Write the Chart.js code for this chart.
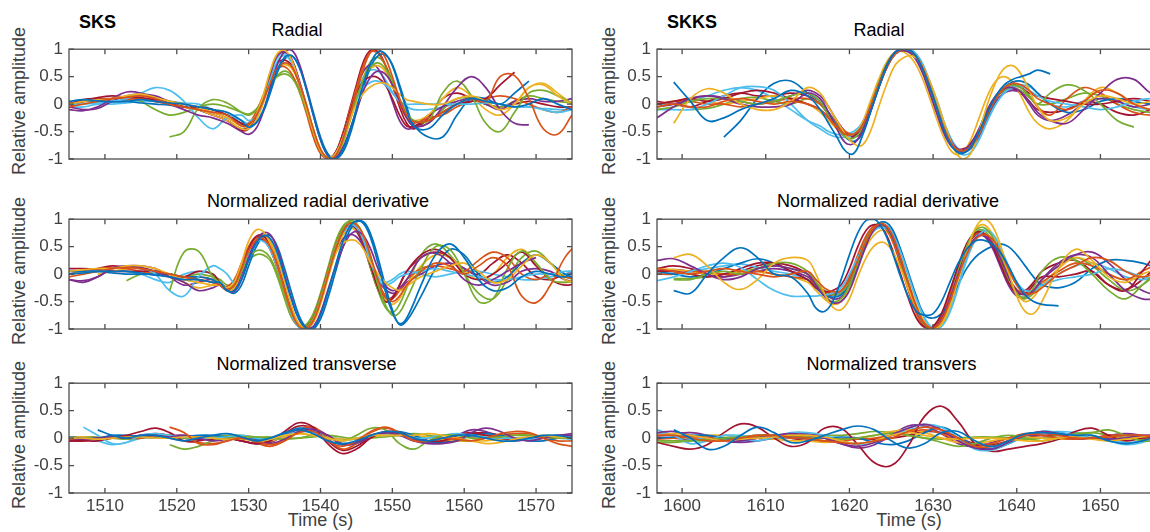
<!DOCTYPE html>
<html>
<head>
<meta charset="utf-8">
<script src="https://cdn.jsdelivr.net/npm/chart.js@4.4.1/dist/chart.umd.min.js"></script>
<style>
    html, body { margin: 0; padding: 0; background: #fff; overflow: hidden; }
    #page { position: relative; width: 1150px; height: 532px; overflow: hidden; font-family: 'Liberation Sans', Arial, sans-serif; }
    canvas { position: absolute; }
    .lbl { position: absolute; white-space: nowrap; line-height: 1; transform: translate(-50%, -50%); font-size: 18px; }
    .title { color: #000; }
    .axis { color: #404040; }
    .ylab { color: #404040; transform: translate(-50%, -50%) rotate(-90deg); }
    .tag { position: absolute; font-weight: bold; font-size: 18px; line-height: 1; color: #000; }
</style>
</head>
<body>
<div id="page">
    <div class="tag" style="left:79px;top:13px">SKS</div>
    <div class="tag" style="left:667px;top:13px">SKKS</div>

    <div class="lbl title" style="left:297px;top:29.5px">Radial</div>
    <div class="lbl title" style="left:879px;top:29.5px">Radial</div>
    <div class="lbl title" style="left:318px;top:200.5px">Normalized radial derivative</div>
    <div class="lbl title" style="left:888px;top:200.5px">Normalized radial derivative</div>
    <div class="lbl title" style="left:306.5px;top:363.5px">Normalized transverse</div>
    <div class="lbl title" style="left:891.5px;top:363.5px">Normalized transvers</div>

    <div class="lbl ylab" style="left:19px;top:101px">Relative amplitude</div>
    <div class="lbl ylab" style="left:19px;top:271px">Relative amplitude</div>
    <div class="lbl ylab" style="left:19px;top:435px">Relative amplitude</div>
    <div class="lbl ylab" style="left:609px;top:101px">Relative amplitude</div>
    <div class="lbl ylab" style="left:609px;top:271px">Relative amplitude</div>
    <div class="lbl ylab" style="left:609px;top:435px">Relative amplitude</div>

    <div class="lbl axis" style="left:320.5px;top:520px">Time (s)</div>
    <div class="lbl axis" style="left:909px;top:520px">Time (s)</div>
</div>
<script>
// ---- data ----
const traceColors = ['#0072BD', '#D95319', '#EDB120', '#7E2F8E', '#77AC30', '#4DBEEE', '#A2142F'];

const ampTicks = [-1, -0.5, 0, 0.5, 1];
const sksRange = [1505, 1575];
const skksRange = [1597, 1657];
const sksTicks = [1510, 1520, 1530, 1540, 1550, 1560, 1570];
const skksTicks = [1600, 1610, 1620, 1630, 1640, 1650];

// SKS radial
const sksRadialTime = [1505,1507,1509,1511,1513,1515,1517,1519,1521,1523,1525,1527,
    1529,1530,1531,1532,1533,1534,1535,1536,1537,1538,1539,1540,1541,1542,1543,1544,1545,1546,1547,1548,1549,1550,1551,1552,1553,
    1555,1557,1559,1561,1563,1565,1567,1569,1571,1573,1575];
const sksRadialTraces = [
    [0.05,0.08,0.06,0.04,0.05,0.08,0.05,0.02,0.0,-0.05,-0.1,-0.15, -0.3,-0.42,-0.35,-0.12,0.25,0.62,0.85,0.88,0.68,0.28,-0.2,-0.65,-0.93,-1.0,-0.86,-0.52,-0.08,0.38,0.75,0.95,0.92,0.7,0.3,-0.1,-0.4, -0.45,-0.2,0.0,0.1,0.05,0.0,-0.05,0.0,0.1,0.0,-0.1],
    [-0.05,0.0,0.05,0.1,0.12,0.15,0.1,0.0,-0.05,-0.1,-0.15,-0.2, -0.4,-0.38,-0.22,0.05,0.38,0.65,0.75,0.68,0.4,0.0,-0.45,-0.82,-0.98,-0.95,-0.68,-0.25,0.22,0.65,0.95,1.0,0.85,0.5,0.1,-0.2,-0.32, -0.3,-0.15,0.0,0.1,0.05,0.5,0.52,0.1,-0.45,-0.55,-0.2],
    [0.0,0.05,0.08,0.1,0.15,0.18,0.12,0.05,0.0,-0.05,-0.15,-0.25, -0.4,-0.4,-0.2,0.15,0.6,0.92,0.98,0.8,0.4,-0.05,-0.5,-0.85,-0.97,-0.92,-0.65,-0.3,0.0,0.2,0.32,0.38,0.38,0.3,0.18,0.08,0.05, 0.0,0.0,0.1,0.15,0.05,-0.1,0.0,0.3,0.35,0.15,0.0],
    [-0.1,-0.12,-0.05,0.1,0.22,0.2,0.1,0.0,-0.1,-0.2,-0.25,-0.35, -0.5,-0.55,-0.45,-0.15,0.3,0.72,0.95,0.98,0.75,0.3,-0.2,-0.65,-0.93,-0.98,-0.82,-0.5,-0.12,0.25,0.5,0.6,0.55,0.35,0.05,-0.25,-0.4, -0.35,-0.05,0.3,0.5,0.3,-0.1,-0.35,-0.38,null,null,null],
    [null,null,null,null,null,null,null,-0.6,-0.5,-0.08,0.08,0.02, -0.15,-0.2,-0.12,0.1,0.35,0.5,0.55,0.48,0.25,-0.1,-0.5,-0.85,-0.98,-0.95,-0.7,-0.3,0.1,0.45,0.68,0.75,0.65,0.4,0.1,-0.15,-0.3, -0.3,0.2,0.42,0.15,-0.35,-0.5,-0.15,0.2,0.25,0.15,0.02],
    [0.0,0.0,0.02,0.05,0.1,0.2,0.3,0.25,0.05,-0.25,-0.45,-0.25, -0.2,-0.3,-0.22,0.05,0.45,0.78,0.88,0.75,0.4,-0.05,-0.5,-0.85,-0.98,-0.92,-0.65,-0.25,0.1,0.3,0.4,0.42,0.35,0.2,0.05,0.0,0.0, 0.0,0.0,0.0,0.0,0.02,0.0,-0.05,-0.05,-0.1,-0.15,-0.1],
    [0.0,0.08,0.1,0.1,0.12,0.12,0.08,0.02,-0.05,-0.05,-0.1,-0.2, -0.35,-0.38,-0.2,0.1,0.48,0.75,0.8,0.7,0.38,-0.05,-0.5,-0.85,-0.97,-0.9,-0.6,-0.2,0.2,0.42,0.5,0.48,0.35,0.1,-0.2,-0.4,-0.4, -0.3,-0.15,0.0,0.05,0.1,0.35,0.58,null,null,null,null],
    [null,0.05,0.05,0.05,0.05,0.02,0.0,-0.02,-0.05,-0.05,-0.1,-0.2, -0.35,-0.4,-0.35,-0.15,0.2,0.58,0.82,0.88,0.7,0.32,-0.15,-0.6,-0.9,-1.0,-0.9,-0.6,-0.15,0.3,0.68,0.88,0.9,0.72,0.35,-0.05,-0.38, -0.6,-0.6,-0.2,0.1,0.1,0.0,0.2,0.42,null,null,null],
    [0.02,0.05,0.05,0.05,0.08,0.1,0.05,0.0,-0.05,-0.1,-0.15,-0.25, -0.38,-0.35,-0.15,0.15,0.45,0.65,0.68,0.55,0.25,-0.15,-0.6,-0.9,-0.99,-0.9,-0.58,-0.15,0.3,0.72,0.95,0.92,0.72,0.35,0.0,-0.25,-0.35, -0.25,-0.2,-0.05,0.05,0.1,0.15,0.1,0.0,-0.1,-0.15,-0.05],
    [null,null,null,null,0.1,0.15,0.1,0.05,-0.05,-0.1,-0.2,-0.3, -0.45,-0.45,-0.3,0.0,0.4,0.65,0.72,0.65,0.38,0.0,-0.45,-0.82,-0.97,-0.95,-0.72,-0.35,0.08,0.45,0.65,0.7,0.6,0.35,0.05,-0.2,-0.3, -0.2,0.1,0.3,0.15,-0.1,-0.2,0.0,0.3,0.38,0.2,0.0],
    [-0.05,-0.1,-0.08,0.05,0.15,0.18,0.15,0.05,0.0,-0.1,-0.2,-0.3, -0.45,-0.42,-0.25,0.1,0.55,0.88,0.95,0.82,0.45,0.0,-0.48,-0.85,-0.98,-0.92,-0.65,-0.22,0.25,0.6,0.72,0.65,0.4,0.05,-0.3,-0.45,-0.42, -0.2,-0.05,0.05,0.1,0.0,-0.1,0.05,0.1,0.05,0.05,0.1],
    [null,null,null,null,0.15,0.05,-0.1,-0.2,-0.15,-0.05,0.0,-0.05, -0.15,-0.18,-0.1,0.1,0.35,0.52,0.6,0.52,0.28,-0.08,-0.5,-0.85,-0.97,-0.97,-0.75,-0.35,0.08,0.48,0.78,0.85,0.72,0.42,0.05,-0.25,-0.4, -0.35,-0.1,0.1,0.1,0.0,-0.05,0.05,0.15,0.1,0.05,0.02],
    [-0.05,-0.05,0.0,0.0,0.02,0.05,0.05,0.05,0.02,0.0,-0.1,-0.2, -0.3,-0.35,-0.2,0.1,0.55,0.85,0.92,0.78,0.42,-0.02,-0.48,-0.85,-0.98,-0.92,-0.62,-0.2,0.2,0.5,0.62,0.6,0.45,0.22,0.05,-0.05,-0.1, -0.1,-0.05,0.0,0.05,0.05,0.0,-0.05,-0.05,-0.08,-0.1,-0.1],
    [-0.05,0.05,0.12,0.15,0.12,0.1,0.05,0.0,-0.05,-0.1,-0.2,-0.3, -0.48,-0.45,-0.25,0.12,0.55,0.88,0.95,0.8,0.42,-0.05,-0.52,-0.88,-0.99,-0.9,-0.58,-0.12,0.35,0.78,0.98,0.95,0.72,0.35,-0.05,-0.35,-0.45, -0.25,0.1,0.2,0.1,0.0,-0.05,0.0,0.05,0.0,-0.05,-0.05]
];

// SKS normalized radial derivative
const sksDerivTime = [1505,1507,1509,1511,1513,1515,1517,1519,1521,1523,1525,
    1526,1527,1528,1529,1530,1531,1532,1533,1534,1535,1536,1537,1538,1539,1540,1541,1542,1543,1544,1545,1546,1547,1548,1549,1550,1551,1552,
    1554,1556,1558,1560,1562,1564,1566,1568,1570,1572,1574,1576];
const sksDerivTraces = [
    [0.0,0.02,0.05,0.05,0.05,0.02,-0.02,-0.05,-0.1,-0.1,-0.15, -0.15,-0.3,-0.3,-0.1,0.25,0.55,0.7,0.65,0.38,-0.05,-0.48,-0.82,-0.98,-0.98,-0.75,-0.35,0.12,0.55,0.85,0.97,0.92,0.65,0.2,-0.3,-0.7,-0.9,-0.8, -0.2,0.35,0.55,0.3,-0.1,-0.3,-0.25,-0.05,0.05,0.0,-0.05,0.1],
    [-0.05,0.0,0.05,0.1,0.12,0.1,0.05,0.0,-0.05,-0.1,-0.15, -0.2,-0.28,-0.2,0.1,0.42,0.62,0.65,0.5,0.15,-0.3,-0.7,-0.95,-0.98,-0.85,-0.5,-0.05,0.4,0.75,0.92,0.9,0.7,0.32,-0.1,-0.4,-0.5,-0.4,-0.2, 0.05,0.2,0.15,0.0,0.15,0.3,0.15,-0.4,-0.52,-0.2,0.3,0.6],
    [0.05,0.08,0.1,0.1,0.15,0.15,0.1,0.0,-0.1,-0.15,-0.2, -0.2,-0.25,-0.15,0.2,0.6,0.8,0.78,0.55,0.15,-0.3,-0.7,-0.92,-0.98,-0.85,-0.5,-0.05,0.35,0.55,0.62,0.6,0.45,0.2,0.0,-0.15,-0.25,-0.3,-0.22, -0.05,0.05,0.15,0.2,0.05,-0.15,-0.1,0.15,0.35,0.2,-0.1,-0.15],
    [-0.1,-0.12,-0.05,0.1,0.15,0.12,0.05,-0.05,-0.15,-0.3,-0.25, -0.2,-0.3,-0.32,-0.1,0.3,0.6,0.75,0.72,0.45,0.0,-0.45,-0.82,-0.97,-0.95,-0.7,-0.3,0.1,0.45,0.7,0.78,0.7,0.45,0.1,-0.2,-0.3,-0.25,-0.1, 0.3,0.38,0.2,-0.1,-0.2,-0.1,0.05,0.2,0.3,null,null,null],
    [null,null,null,null,null,null,null,-0.3,0.4,0.42,-0.05, -0.15,-0.25,-0.2,0.05,0.3,0.42,0.42,0.3,0.0,-0.38,-0.72,-0.92,-0.95,-0.8,-0.45,0.0,0.45,0.8,0.97,0.92,0.7,0.3,-0.2,-0.55,-0.75,-0.7,-0.45, 0.1,0.5,0.45,0.0,-0.5,-0.45,0.1,0.42,0.2,-0.1,-0.15,-0.1],
    [0.0,0.02,0.05,0.1,0.15,0.12,0.0,-0.3,-0.4,-0.05,0.15, 0.1,0.0,-0.15,0.05,0.4,0.58,0.6,0.45,0.1,-0.35,-0.75,-0.97,-0.98,-0.82,-0.45,0.0,0.45,0.78,0.9,0.85,0.6,0.2,-0.1,-0.2,-0.15,-0.05,0.0, 0.05,0.1,0.05,0.0,-0.05,-0.1,-0.1,-0.05,0.0,0.0,0.05,0.05],
    [0.1,0.1,0.08,0.05,0.05,0.05,0.05,0.0,-0.05,0.05,0.0, -0.15,-0.25,-0.2,0.1,0.45,0.68,0.7,0.52,0.15,-0.3,-0.7,-0.93,-0.95,-0.8,-0.45,0.0,0.42,0.75,0.9,0.82,0.55,0.15,-0.25,-0.5,-0.45,-0.2,0.05, 0.35,0.45,0.3,0.0,-0.1,0.0,0.2,0.4,0.15,-0.1,-0.2,-0.15],
    [0.05,0.05,0.05,0.02,0.0,0.0,0.0,0.0,-0.05,-0.05,-0.1, -0.2,-0.3,-0.35,-0.2,0.15,0.48,0.68,0.7,0.5,0.1,-0.35,-0.75,-0.97,-1.0,-0.82,-0.45,0.0,0.45,0.78,0.95,0.95,0.72,0.3,-0.2,-0.65,-0.92,-0.85, -0.4,0.1,0.45,0.35,0.0,-0.15,-0.05,0.2,0.35,0.2,0.0,-0.1],
    [0.0,0.05,0.1,0.12,0.1,0.05,0.0,-0.05,-0.1,-0.05,-0.1, -0.2,-0.22,-0.1,0.2,0.5,0.68,0.65,0.45,0.1,-0.35,-0.75,-0.96,-0.95,-0.78,-0.4,0.05,0.48,0.8,0.92,0.85,0.6,0.2,-0.2,-0.42,-0.45,-0.3,-0.1, 0.1,0.15,0.1,0.05,0.25,0.4,0.3,0.0,-0.1,0.0,-0.05,-0.1],
    [null,null,0.0,0.05,0.1,0.12,0.05,0.0,-0.15,-0.25,-0.2, -0.2,-0.3,-0.25,0.05,0.4,0.65,0.72,0.6,0.28,-0.15,-0.6,-0.9,-0.97,-0.88,-0.55,-0.1,0.35,0.68,0.82,0.8,0.6,0.25,-0.15,-0.45,-0.55,-0.45,-0.2, 0.15,0.35,0.3,0.05,-0.1,0.0,0.3,0.45,0.2,-0.1,-0.15,-0.1],
    [-0.1,-0.15,-0.05,0.1,0.15,0.15,0.1,-0.05,-0.2,-0.15,-0.1, -0.2,-0.3,-0.28,0.0,0.4,0.65,0.72,0.6,0.25,-0.2,-0.62,-0.92,-0.97,-0.85,-0.5,-0.05,0.35,0.62,0.72,0.68,0.5,0.2,-0.1,-0.28,-0.35,-0.3,-0.15, 0.0,0.15,0.2,0.1,-0.05,-0.2,-0.15,0.05,0.1,0.05,-0.1,-0.15],
    [null,null,null,null,-0.12,0.0,0.05,0.0,-0.05,0.0,-0.05, -0.1,-0.2,-0.2,0.0,0.25,0.35,0.35,0.25,-0.05,-0.45,-0.8,-0.95,-0.92,-0.72,-0.35,0.1,0.55,0.85,0.95,0.85,0.55,0.1,-0.3,-0.6,-0.7,-0.55,-0.25, 0.35,0.55,0.35,0.0,-0.35,-0.45,-0.1,0.3,0.42,0.2,-0.05,-0.1],
    [0.0,0.05,0.05,0.05,0.05,0.0,-0.1,-0.15,0.0,0.05,0.0, -0.15,-0.25,-0.25,0.0,0.38,0.62,0.7,0.6,0.25,-0.2,-0.65,-0.95,-1.0,-0.88,-0.52,-0.05,0.4,0.72,0.85,0.8,0.6,0.25,-0.05,-0.15,-0.1,0.0,0.05, 0.0,-0.05,0.0,0.05,0.05,0.0,-0.05,-0.1,-0.1,-0.05,0.0,0.05],
    [0.0,0.05,0.1,0.15,0.12,0.1,0.05,0.0,-0.05,-0.1,-0.15, -0.2,-0.28,-0.25,0.05,0.42,0.62,0.62,0.45,0.1,-0.32,-0.72,-0.95,-0.97,-0.8,-0.42,0.05,0.5,0.8,0.88,0.78,0.5,0.1,-0.28,-0.45,-0.42,-0.2,0.05, 0.3,0.4,0.3,0.1,0.0,0.2,0.35,0.2,-0.05,-0.1,0.0,0.05]
];

// SKS normalized transverse
const sksTransTime = [1505,1507,1509,1511,1513,1515,1517,1519,1521,1523,1525,1527,1529,1531,1533,1535,1537,1539,1541,1543,
    1545,1547,1549,1551,1553,1555,1557,1559,1561,1563,1565,1567,1569,1571,1573,1575];
const sksTransTraces = [
    [null,null,0.15,0.05,0.0,0.05,0.05,0.0,-0.05,0.0,0.05,0.08,0.02,-0.05,0.0,0.1,0.15,0.08,-0.05,-0.1,-0.05,0.05,0.12,0.1,0.0,-0.05,0.0,0.05,0.05,0.0,-0.05,-0.05,0.0,0.05,0.05,0.0],
    [null,null,null,null,null,null,null,0.2,0.1,-0.1,-0.12,-0.05,0.0,-0.05,-0.12,-0.05,0.1,0.12,-0.05,-0.15,-0.05,0.12,0.2,0.1,-0.05,-0.05,0.0,-0.02,-0.05,0.0,0.08,0.12,0.1,0.0,-0.1,-0.15],
    [0.0,0.0,-0.02,0.0,0.02,0.02,0.0,0.0,0.02,0.02,0.0,-0.02,0.0,-0.05,-0.02,0.05,0.08,0.05,0.0,-0.05,0.0,0.05,0.05,0.05,0.05,0.08,0.05,0.0,-0.05,-0.1,-0.08,-0.02,0.02,0.05,0.02,0.0],
    [0.0,-0.02,0.0,0.02,0.0,0.05,0.05,0.02,0.05,0.0,-0.05,-0.02,0.0,-0.05,-0.1,-0.02,0.12,0.15,0.05,-0.1,-0.08,0.05,0.1,0.05,-0.05,-0.1,-0.1,-0.05,0.1,0.18,0.12,0.0,-0.05,0.0,0.05,0.05],
    [null,null,null,null,null,null,null,-0.12,-0.2,-0.15,-0.05,0.0,0.02,0.02,0.0,-0.02,0.0,0.05,0.0,-0.05,0.05,0.18,0.15,-0.1,-0.2,-0.05,0.05,0.05,0.0,0.0,0.02,0.05,0.05,0.02,0.0,0.0],
    [null,0.2,0.05,-0.1,-0.08,0.05,0.08,0.05,0.02,0.0,0.0,0.02,0.05,0.0,-0.02,0.05,0.12,0.1,0.0,-0.05,0.0,0.05,0.05,0.05,0.0,0.0,0.05,0.08,0.05,0.02,0.0,0.0,-0.02,0.0,0.02,0.05],
    [-0.05,-0.05,-0.05,0.0,0.05,0.12,0.18,0.1,-0.05,-0.05,0.0,0.0,-0.05,-0.1,-0.05,0.12,0.28,0.2,-0.1,-0.28,-0.2,0.0,0.1,0.1,0.0,-0.05,-0.05,0.05,0.1,0.05,0.0,-0.02,0.0,0.02,0.0,0.0],
    [0.02,0.0,0.0,0.05,0.05,0.02,0.0,0.0,0.02,0.05,0.05,0.02,0.0,-0.02,0.0,0.08,0.18,0.12,-0.05,-0.12,-0.08,0.05,0.1,0.12,0.05,-0.05,-0.08,-0.05,0.05,0.08,0.05,0.0,-0.05,-0.05,0.0,0.05],
    [-0.03,-0.03,0.0,0.02,0.0,0.0,0.05,0.0,-0.05,-0.08,-0.1,-0.05,0.02,-0.08,-0.15,-0.05,0.15,0.2,0.0,-0.2,-0.1,0.1,0.18,0.1,0.0,-0.05,-0.05,0.0,0.02,0.05,0.05,0.08,0.08,0.0,-0.05,-0.05],
    [0.02,0.02,0.0,0.0,0.0,0.02,0.05,0.05,0.02,0.0,0.0,0.0,-0.02,-0.05,-0.05,0.02,0.08,0.05,0.02,-0.02,0.0,0.02,0.05,0.05,0.05,0.02,-0.02,-0.05,-0.05,-0.05,-0.02,0.0,0.02,0.02,0.0,0.0],
    [-0.05,-0.02,0.0,0.0,0.02,0.02,0.05,0.05,0.05,0.02,0.0,0.0,-0.05,-0.1,-0.08,0.05,0.15,0.18,0.05,-0.12,-0.1,0.02,0.1,0.08,-0.02,-0.08,-0.05,0.05,0.15,0.12,0.0,-0.05,-0.02,0.02,0.05,0.08],
    [0.02,0.02,0.02,0.0,-0.02,0.0,0.02,0.02,0.0,0.0,0.02,0.05,0.05,0.02,0.02,0.0,0.0,0.02,0.05,0.02,-0.02,0.0,0.02,0.05,0.08,0.05,0.0,-0.05,-0.05,0.0,0.05,0.08,0.05,0.02,0.0,0.0],
    [0.0,0.0,-0.05,-0.12,-0.08,0.0,0.05,0.05,0.0,0.0,0.02,0.02,0.0,-0.02,0.0,0.05,0.12,0.12,0.05,-0.02,-0.02,0.02,0.05,0.05,0.02,0.02,0.05,0.05,0.02,0.0,-0.02,0.0,0.02,0.02,0.0,-0.02],
    [-0.05,-0.05,0.0,0.02,0.02,0.05,0.08,0.05,0.0,-0.02,-0.02,0.0,-0.05,-0.1,-0.08,0.08,0.22,0.18,-0.05,-0.22,-0.15,0.02,0.12,0.1,0.02,-0.05,-0.08,-0.02,0.08,0.1,0.05,0.0,-0.02,0.0,0.02,0.02]
];

// SKKS radial
const skksRadialTime = [1597,1599,1601,1603,1605,1607,1609,1611,1613,1615,
    1616.5,1617.5,1618.5,1619.5,1620.5,1621.5,1622.5,1623.5,1624.5,1625.5,1626.5,1627.5,1628.5,1629.5,1630.5,1631.5,1632.5,1633.5,1634.5,1635.5,1636.5,1637.5,1638.5,1639.5,1640.5,1641.5,1642.5,
    1644,1646,1648,1650,1652,1654,1656,1658];
const skksRadialTraces = [
    [null,0.4,0.05,-0.3,-0.25,-0.1,0.0,0.1,0.25,0.15, -0.1,-0.35,-0.6,-0.85,-0.9,-0.6,-0.15,0.3,0.7,0.95,1.0,0.95,0.72,0.35,-0.1,-0.55,-0.82,-0.9,-0.78,-0.5,-0.15,0.15,0.35,0.45,0.5,0.55,0.62, 0.55,null,null,null,null,null,null,null],
    [-0.05,0.0,-0.05,-0.05,0.05,0.1,0.05,0.0,0.05,0.0, -0.1,-0.25,-0.42,-0.55,-0.55,-0.4,-0.05,0.35,0.68,0.92,1.0,0.95,0.75,0.38,-0.08,-0.5,-0.78,-0.85,-0.78,-0.55,-0.2,0.1,0.3,0.38,0.35,0.25,0.1, 0.0,-0.1,0.05,0.25,0.2,0.0,-0.1,-0.1],
    [null,-0.35,0.1,0.28,0.2,0.0,-0.1,-0.1,0.05,0.3, 0.2,-0.05,-0.3,-0.55,-0.72,-0.75,-0.5,-0.05,0.38,0.72,0.85,0.88,0.75,0.45,0.05,-0.42,-0.82,-1.0,-0.9,-0.5,0.0,0.4,0.65,0.7,0.55,0.25,-0.05, -0.3,-0.25,0.0,0.15,0.1,0.0,0.05,0.1],
    [-0.25,-0.05,0.1,0.15,0.1,0.0,-0.05,-0.05,0.0,0.2, 0.1,-0.15,-0.45,-0.7,-0.72,-0.5,-0.1,0.35,0.72,0.95,0.98,0.9,0.65,0.25,-0.2,-0.6,-0.82,-0.85,-0.72,-0.45,-0.1,0.15,0.28,0.3,0.22,0.05,-0.15, -0.3,-0.35,-0.1,0.2,0.45,0.45,0.2,0.1],
    [-0.1,-0.05,0.05,0.1,0.1,0.05,0.0,0.05,0.15,0.2, 0.05,-0.2,-0.42,-0.6,-0.62,-0.45,-0.05,0.38,0.75,0.95,0.98,0.92,0.7,0.3,-0.15,-0.55,-0.8,-0.85,-0.75,-0.48,-0.12,0.15,0.3,0.35,0.3,0.15,0.0, 0.2,0.35,0.25,0.0,-0.3,-0.42,null,null],
    [-0.1,-0.1,-0.1,0.0,0.15,0.3,0.32,0.25,0.0,-0.3, -0.45,-0.55,-0.6,-0.6,-0.55,-0.4,-0.05,0.35,0.7,0.92,1.0,0.98,0.8,0.45,0.0,-0.45,-0.78,-0.92,-0.88,-0.65,-0.3,0.0,0.2,0.3,0.32,0.25,0.15, 0.05,0.0,-0.05,-0.1,-0.05,0.05,0.1,0.05],
    [0.0,0.05,0.1,0.05,0.1,0.2,0.25,0.2,0.1,0.0, -0.1,-0.25,-0.42,-0.55,-0.58,-0.42,-0.05,0.35,0.7,0.92,0.98,0.92,0.7,0.32,-0.12,-0.55,-0.8,-0.85,-0.72,-0.45,-0.1,0.15,0.3,0.35,0.3,0.2,0.15, 0.1,0.05,0.0,0.0,0.05,0.1,0.05,0.0],
    [null,null,null,null,-0.6,-0.3,0.1,0.38,0.42,0.2, 0.05,-0.15,-0.4,-0.6,-0.68,-0.55,-0.15,0.3,0.7,0.95,1.0,0.95,0.75,0.38,-0.05,-0.5,-0.8,-0.88,-0.8,-0.55,-0.22,0.1,0.3,0.4,0.42,0.35,0.2, 0.0,-0.15,-0.1,0.05,0.1,0.05,0.0,0.0],
    [0.0,0.05,0.05,0.0,0.0,-0.05,0.0,0.05,0.1,0.1, 0.0,-0.15,-0.35,-0.5,-0.55,-0.45,-0.1,0.3,0.68,0.92,1.0,0.97,0.78,0.42,-0.02,-0.48,-0.78,-0.88,-0.8,-0.55,-0.2,0.1,0.28,0.35,0.3,0.15,-0.05, -0.2,0.1,0.3,0.2,0.0,-0.15,-0.2,-0.15],
    [0.0,0.05,0.1,0.05,0.0,0.05,0.1,0.15,0.1,0.0, -0.15,-0.3,-0.45,-0.55,-0.55,-0.35,0.05,0.45,0.78,0.95,0.95,0.82,0.55,0.15,-0.3,-0.68,-0.9,-0.88,-0.65,-0.25,0.15,0.42,0.5,0.4,0.15,-0.15,-0.35, -0.45,-0.3,0.05,0.3,0.2,0.0,-0.1,-0.1],
    [-0.05,0.0,0.1,0.15,0.12,0.05,0.0,0.05,0.15,0.25, 0.15,-0.05,-0.3,-0.5,-0.6,-0.5,-0.15,0.3,0.68,0.92,1.0,0.97,0.78,0.42,0.0,-0.45,-0.75,-0.85,-0.8,-0.58,-0.25,0.05,0.2,0.25,0.2,0.0,-0.2, -0.3,-0.2,0.0,0.1,0.05,-0.05,0.0,0.05],
    [null,null,-0.1,-0.08,0.0,0.1,0.12,0.05,0.0,0.1, 0.0,-0.2,-0.4,-0.55,-0.6,-0.45,-0.1,0.32,0.7,0.92,0.98,0.95,0.75,0.38,-0.08,-0.5,-0.78,-0.86,-0.78,-0.52,-0.18,0.1,0.25,0.3,0.25,0.12,0.0, 0.0,0.1,0.2,0.15,0.0,-0.1,-0.15,-0.1],
    [0.0,0.0,0.05,0.15,0.25,0.3,0.25,0.1,-0.1,-0.3, -0.4,-0.5,-0.55,-0.55,-0.5,-0.35,0.0,0.38,0.72,0.95,1.0,0.97,0.8,0.45,0.05,-0.4,-0.72,-0.85,-0.82,-0.6,-0.3,0.0,0.22,0.32,0.35,0.32,0.2, 0.0,-0.05,0.05,0.1,0.05,-0.05,-0.1,-0.05],
    [0.05,0.0,-0.05,0.05,0.15,0.2,0.15,0.15,0.2,0.15, 0.0,-0.2,-0.4,-0.52,-0.55,-0.45,-0.1,0.3,0.68,0.92,1.0,0.97,0.78,0.4,-0.05,-0.5,-0.78,-0.82,-0.72,-0.48,-0.15,0.12,0.25,0.28,0.2,0.05,-0.1, -0.15,-0.1,0.05,0.0,-0.15,-0.2,-0.1,0.0]
];

// SKKS normalized radial derivative
const skksDerivTime = [1597,1599,1601,1603,1605,1607,1609,1611,1613,
    1615,1616,1617,1618,1619,1620,1621,1622,1623,1624,1625,1626,1627,1628,1629,1630,1631,1632,1633,1634,1635,1636,1637,1638,1639,1640,1641,1642,1643,
    1645,1647,1649,1651,1653,1655,1657];
const skksDerivTraces = [
    [null,-0.3,-0.35,0.0,0.3,0.48,0.3,0.0,-0.05, -0.35,-0.62,-0.68,-0.5,-0.1,0.35,0.75,0.98,1.0,0.82,0.45,0.0,-0.4,-0.68,-0.75,-0.72,-0.5,-0.15,0.2,0.45,0.6,0.62,0.55,0.4,0.15,-0.15,-0.38,-0.5,-0.55, -0.58,null,null,null,null,null,null],
    [0.1,0.05,0.0,0.05,0.1,0.05,0.0,-0.05,0.0, 0.05,-0.1,-0.25,-0.32,-0.3,-0.1,0.25,0.6,0.85,0.92,0.75,0.35,-0.15,-0.6,-0.9,-0.98,-0.85,-0.5,-0.05,0.35,0.62,0.72,0.65,0.42,0.1,-0.2,-0.35,-0.35,-0.25, 0.0,0.15,0.3,0.25,0.05,-0.05,0.05],
    [null,0.3,0.36,0.15,-0.15,-0.28,-0.1,0.2,0.3, 0.25,0.0,-0.35,-0.6,-0.65,-0.45,-0.05,0.3,0.52,0.58,0.45,0.15,-0.25,-0.62,-0.88,-1.0,-0.92,-0.6,-0.1,0.4,0.82,1.0,0.9,0.55,0.05,-0.4,-0.68,-0.72,-0.5, 0.1,0.45,0.25,-0.05,-0.15,0.0,0.1],
    [0.25,0.28,0.15,0.0,-0.1,-0.05,0.1,0.15,0.1, 0.0,-0.2,-0.4,-0.52,-0.5,-0.3,0.1,0.52,0.82,0.9,0.72,0.32,-0.15,-0.6,-0.9,-0.98,-0.82,-0.45,0.0,0.4,0.65,0.7,0.58,0.3,-0.05,-0.3,-0.38,-0.3,-0.1, 0.2,0.35,0.3,0.0,-0.3,-0.45,-0.45],
    [null,-0.1,-0.1,0.0,0.05,0.0,0.1,0.2,0.2, 0.05,-0.15,-0.38,-0.5,-0.45,-0.2,0.2,0.6,0.85,0.9,0.7,0.3,-0.2,-0.62,-0.92,-1.0,-0.85,-0.45,0.05,0.5,0.78,0.85,0.7,0.35,-0.05,-0.35,-0.42,-0.25,0.05, 0.3,0.25,0.0,-0.3,-0.45,-0.2,0.1],
    [-0.12,-0.05,0.05,0.15,0.2,0.12,-0.1,-0.3,-0.4, -0.4,-0.4,-0.38,-0.35,-0.25,0.0,0.3,0.6,0.8,0.85,0.75,0.45,0.0,-0.45,-0.8,-0.98,-0.95,-0.7,-0.25,0.25,0.6,0.78,0.75,0.5,0.15,-0.15,-0.3,-0.3,-0.2, -0.1,-0.05,0.0,0.1,0.05,-0.05,-0.1],
    [0.05,0.05,0.0,-0.05,0.0,0.1,0.2,0.2,0.05, -0.1,-0.25,-0.32,-0.3,-0.2,0.1,0.5,0.8,0.9,0.82,0.5,0.05,-0.42,-0.8,-0.97,-0.95,-0.72,-0.3,0.15,0.55,0.75,0.75,0.55,0.2,-0.15,-0.35,-0.35,-0.2,-0.05, -0.05,0.0,0.05,-0.2,-0.3,0.05,0.45],
    [0.05,0.0,-0.05,0.0,0.1,0.2,0.28,0.2,0.05, -0.1,-0.25,-0.38,-0.42,-0.38,-0.2,0.15,0.55,0.85,0.95,0.85,0.5,0.05,-0.4,-0.75,-0.8,-0.72,-0.5,-0.2,0.1,0.3,0.42,0.5,0.55,0.5,0.35,0.15,-0.05,-0.2, -0.25,-0.15,0.1,0.25,0.25,0.2,0.1],
    [0.0,0.0,0.05,0.05,0.0,0.0,0.05,0.0,-0.05, -0.1,-0.2,-0.3,-0.35,-0.3,-0.05,0.35,0.7,0.88,0.88,0.65,0.22,-0.28,-0.72,-0.95,-0.97,-0.78,-0.38,0.1,0.5,0.72,0.75,0.6,0.3,-0.05,-0.28,-0.35,-0.28,-0.15, 0.05,0.2,0.15,0.0,-0.1,0.05,0.2],
    [0.1,0.08,0.05,0.0,0.0,0.05,0.05,0.0,-0.05, -0.15,-0.3,-0.45,-0.55,-0.5,-0.25,0.15,0.5,0.72,0.8,0.68,0.35,-0.1,-0.55,-0.88,-1.0,-0.9,-0.55,-0.05,0.45,0.8,0.9,0.75,0.4,0.0,-0.35,-0.5,-0.42,-0.2, 0.1,0.3,0.2,0.0,-0.1,-0.05,0.0],
    [0.05,0.08,0.05,0.0,-0.05,0.0,0.05,0.1,0.05, -0.05,-0.2,-0.35,-0.45,-0.42,-0.2,0.2,0.6,0.85,0.9,0.72,0.3,-0.2,-0.65,-0.92,-0.98,-0.8,-0.4,0.1,0.52,0.72,0.7,0.5,0.15,-0.2,-0.4,-0.42,-0.3,-0.1, 0.15,0.35,0.4,0.2,-0.1,-0.3,-0.4],
    [null,-0.08,-0.08,-0.05,0.0,0.05,0.1,0.15,0.1, 0.0,-0.15,-0.3,-0.38,-0.35,-0.15,0.25,0.65,0.88,0.92,0.72,0.3,-0.2,-0.65,-0.92,-0.98,-0.82,-0.42,0.05,0.5,0.75,0.8,0.62,0.25,-0.12,-0.38,-0.45,-0.35,-0.1, 0.15,0.3,0.15,-0.1,-0.3,-0.2,0.05],
    [0.0,0.02,0.05,0.1,0.15,0.18,0.12,0.05,0.0, -0.1,-0.2,-0.3,-0.35,-0.32,-0.15,0.2,0.55,0.8,0.9,0.8,0.45,0.0,-0.45,-0.82,-1.0,-0.95,-0.65,-0.2,0.3,0.65,0.8,0.72,0.45,0.1,-0.2,-0.35,-0.32,-0.2, 0.0,0.15,0.2,0.1,-0.05,-0.1,-0.05],
    [0.1,0.15,0.1,0.0,-0.05,0.05,0.15,0.2,0.15, 0.0,-0.2,-0.35,-0.38,-0.32,-0.1,0.3,0.65,0.85,0.88,0.68,0.25,-0.25,-0.68,-0.92,-0.95,-0.78,-0.38,0.1,0.48,0.7,0.72,0.55,0.22,-0.12,-0.3,-0.3,-0.15,0.05, 0.2,0.25,0.05,-0.2,-0.28,-0.1,0.2]
];

// SKKS normalized transverse
const skksTransTime = [1597,1599,1601,1603,1605,1607,1609,1611,1613,1615,1617,1619,1621,1623,1625,1627,1629,1631,1633,1635,
    1637,1639,1641,1643,1645,1647,1649,1651,1653,1655,1657];
const skksTransTraces = [
    [null,0.15,0.0,-0.2,-0.15,0.05,0.2,0.1,-0.08,-0.05,0.05,0.15,0.22,0.15,-0.05,-0.18,-0.1,0.1,0.12,-0.05,-0.15,-0.05,0.08,0.1,0.08,0.05,0.05,-0.05,-0.1,-0.05,0.05],
    [0.05,0.05,0.0,-0.05,-0.05,0.0,0.05,0.05,0.02,0.0,-0.05,-0.08,-0.1,-0.05,0.0,0.12,0.2,0.15,0.0,-0.15,-0.15,-0.05,0.05,0.1,0.05,0.0,0.0,0.02,0.05,0.05,0.0],
    [0.05,0.08,0.05,0.0,-0.05,-0.02,0.0,0.02,0.05,0.05,0.02,-0.05,-0.1,-0.05,0.05,0.1,0.05,0.0,-0.02,0.0,0.0,-0.02,-0.05,-0.05,0.0,0.02,-0.02,-0.05,-0.02,0.02,0.05],
    [0.1,0.12,0.05,0.0,-0.05,-0.05,0.0,0.05,0.08,0.05,0.0,-0.1,-0.15,-0.08,0.05,0.18,0.25,0.15,-0.05,-0.18,-0.2,-0.08,0.05,0.12,0.08,0.0,0.0,-0.02,0.0,0.05,0.05],
    [-0.05,-0.05,-0.05,-0.02,0.0,0.02,0.05,0.05,0.05,0.02,0.0,-0.02,0.0,0.05,0.08,0.05,0.0,-0.08,-0.15,-0.1,0.0,0.05,0.0,-0.05,0.0,0.05,0.1,0.15,0.05,-0.05,-0.05],
    [0.15,0.05,-0.1,-0.05,0.05,0.0,-0.05,0.02,0.1,0.1,0.05,-0.05,-0.12,-0.08,0.05,0.18,0.25,0.2,0.0,-0.2,-0.22,-0.1,0.05,0.12,0.1,0.05,0.0,-0.05,-0.12,-0.08,0.05],
    [-0.08,-0.15,-0.2,-0.12,0.1,0.26,0.2,0.0,-0.15,-0.08,0.18,0.18,-0.12,-0.45,-0.5,-0.15,0.4,0.58,0.3,-0.1,-0.24,-0.2,-0.15,-0.1,-0.02,0.12,0.18,0.05,-0.05,0.0,0.05],
    [0.0,0.02,0.05,0.05,0.0,-0.05,0.0,0.05,0.02,0.0,0.0,0.02,0.0,-0.08,-0.12,-0.05,0.1,0.2,0.05,-0.15,-0.2,-0.1,0.05,0.12,0.1,0.05,0.0,-0.02,0.0,0.02,0.0],
    [-0.02,0.0,0.02,0.02,0.0,0.0,0.02,0.02,0.0,-0.02,-0.05,-0.05,-0.02,0.0,0.05,0.1,0.15,0.08,-0.05,-0.12,-0.1,0.0,0.08,0.05,0.0,-0.02,0.0,0.05,0.05,0.0,-0.05],
    [0.0,0.0,0.02,0.05,0.05,0.02,0.0,-0.02,-0.05,-0.05,-0.08,-0.05,0.0,0.05,0.12,0.15,0.1,0.0,-0.08,-0.1,-0.05,0.0,0.02,0.0,-0.02,0.0,0.02,0.02,0.0,0.0,0.02],
    [0.05,0.08,0.1,0.05,-0.05,-0.08,-0.05,0.0,0.05,0.08,0.02,-0.1,-0.18,-0.12,0.05,0.22,0.22,0.08,-0.1,-0.15,-0.08,0.0,0.05,0.05,0.0,-0.02,0.0,0.05,0.08,0.05,0.0],
    [-0.08,-0.08,-0.05,-0.05,-0.02,0.0,0.02,0.02,0.02,0.02,0.05,0.05,0.08,0.12,0.1,0.05,0.0,-0.02,0.0,0.02,0.02,0.0,-0.02,0.0,0.05,0.08,0.1,0.05,0.0,-0.02,0.0],
    [0.1,0.05,-0.02,0.0,0.05,0.05,0.0,-0.02,0.02,0.05,0.02,-0.05,-0.1,-0.05,0.05,0.15,0.2,0.15,0.0,-0.15,-0.18,-0.1,0.02,0.1,0.12,0.1,0.05,-0.02,-0.08,-0.05,0.0],
    [0.02,0.0,-0.02,-0.02,0.0,0.02,0.05,0.05,0.0,-0.05,-0.05,-0.02,0.0,-0.02,0.0,0.05,0.12,0.1,0.0,-0.1,-0.12,-0.05,0.02,0.05,0.05,0.02,0.0,0.02,0.05,0.02,0.0]
];

// ---- layout ----
const colCanvasLeft = [0, 588];
const colPlotWidth = [503, 502];
const rowPlotTop = [43, 213, 377];
const plotHeight = 116;
const axisW = 69, padTop = 10, padRight = 10, axisH = 30;

const panels = [
    { time: sksRadialTime, traces: sksRadialTraces, range: sksRange, ticks: sksTicks, col: 0, row: 0 },
    { time: sksDerivTime, traces: sksDerivTraces, range: sksRange, ticks: sksTicks, col: 0, row: 1 },
    { time: sksTransTime, traces: sksTransTraces, range: sksRange, ticks: sksTicks, col: 0, row: 2 },
    { time: skksRadialTime, traces: skksRadialTraces, range: skksRange, ticks: skksTicks, col: 1, row: 0 },
    { time: skksDerivTime, traces: skksDerivTraces, range: skksRange, ticks: skksTicks, col: 1, row: 1 },
    { time: skksTransTime, traces: skksTransTraces, range: skksRange, ticks: skksTicks, col: 1, row: 2 },
];

// matlab-style box with inward ticks
const frameBox = {
    id: 'frameBox',
    afterDatasetsDraw(chart) {
        const { ctx, chartArea: a, scales: { x, y } } = chart;
        const len = 5;
        ctx.save();
        ctx.strokeStyle = '#4d4d4d';
        ctx.lineWidth = 1.3;
        ctx.beginPath();
        x.ticks.forEach(t => {
            const px = x.getPixelForValue(t.value);
            ctx.moveTo(px, a.bottom); ctx.lineTo(px, a.bottom - len);
            ctx.moveTo(px, a.top); ctx.lineTo(px, a.top + len);
        });
        y.ticks.forEach(t => {
            const py = y.getPixelForValue(t.value);
            ctx.moveTo(a.left, py); ctx.lineTo(a.left + len, py);
            ctx.moveTo(a.right, py); ctx.lineTo(a.right - len, py);
        });
        ctx.stroke();
        ctx.strokeRect(a.left, a.top, a.right - a.left, a.bottom - a.top);
        ctx.restore();
    }
};

Chart.defaults.font.family = "'Liberation Sans', Arial, sans-serif";
Chart.defaults.font.size = 17;
Chart.defaults.color = '#404040';

const page = document.getElementById('page');

panels.forEach(p => {
    const w = axisW + colPlotWidth[p.col] + padRight;
    const h = padTop + plotHeight + axisH;
    const canvas = document.createElement('canvas');
    canvas.width = w;
    canvas.height = h;
    canvas.style.width = w + 'px';
    canvas.style.height = h + 'px';
    canvas.style.left = colCanvasLeft[p.col] + 'px';
    canvas.style.top = (rowPlotTop[p.row] - padTop) + 'px';
    page.appendChild(canvas);

    new Chart(canvas, {
        type: 'line',
        data: {
            datasets: p.traces.map((vals, i) => ({
                data: vals.map((v, j) => ({ x: p.time[j], y: v })),
                borderColor: traceColors[i % traceColors.length],
                borderWidth: 1.7,
                pointRadius: 0,
                tension: 0.4,
                fill: false,
            })),
        },
        options: {
            responsive: false,
            animation: false,
            devicePixelRatio: 1,
            events: [],
            layout: { padding: { top: padTop, right: padRight, left: 0, bottom: 0 } },
            plugins: {
                legend: { display: false },
                tooltip: { enabled: false },
            },
            scales: {
                x: {
                    type: 'linear',
                    min: p.range[0],
                    max: p.range[1],
                    afterBuildTicks: s => { s.ticks = p.ticks.map(v => ({ value: v })); },
                    afterFit: s => { s.height = axisH; },
                    grid: { display: false, drawTicks: false },
                    border: { display: false },
                    ticks: {
                        display: p.row === 2,
                        padding: 3,
                        maxRotation: 0,
                        autoSkip: false,
                        callback: v => String(v),
                    },
                },
                y: {
                    type: 'linear',
                    min: -1,
                    max: 1,
                    afterBuildTicks: s => { s.ticks = ampTicks.map(v => ({ value: v })); },
                    afterFit: s => { s.width = axisW; },
                    grid: { display: false, drawTicks: false },
                    border: { display: false },
                    ticks: { padding: 6, callback: v => String(v) },
                },
            },
        },
        plugins: [frameBox],
    });
});
</script>
</body>
</html>
